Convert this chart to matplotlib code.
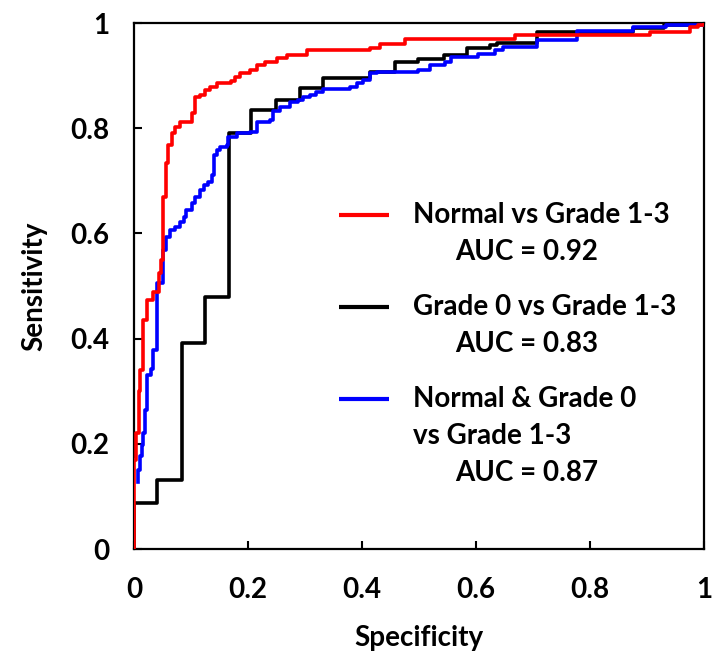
import numpy as np
import matplotlib
matplotlib.use('Agg')
import matplotlib.pyplot as plt

plt.rcParams['font.family'] = ['Lato', 'DejaVu Sans']
plt.rcParams['font.weight'] = 'bold'

# ROC curves: each point is (specificity, sensitivity) at the top of a vertical step
red_x = [0, 0, 0.004, 0.008, 0.011, 0.016, 0.022, 0.034, 0.044, 0.047, 0.051, 0.056,
         0.060, 0.066, 0.072, 0.081, 0.101, 0.107, 0.116, 0.125, 0.133, 0.145, 0.171,
         0.177, 0.186, 0.204, 0.215, 0.230, 0.250, 0.268, 0.303, 0.414, 0.432, 0.475,
         0.668, 0.905, 0.975, 0.990, 1.0]
red_y = [0, 0.17, 0.22, 0.30, 0.34, 0.435, 0.473, 0.489, 0.524, 0.549, 0.670, 0.733,
         0.768, 0.790, 0.803, 0.812, 0.829, 0.860, 0.863, 0.873, 0.878, 0.886, 0.889,
         0.898, 0.904, 0.911, 0.920, 0.926, 0.933, 0.939, 0.949, 0.952, 0.961, 0.969,
         0.977, 0.982, 0.993, 0.997, 1.0]

black_x = [0, 0, 0.040, 0.084, 0.125, 0.167, 0.206, 0.249, 0.291, 0.332, 0.414, 0.458,
           0.499, 0.543, 0.584, 0.625, 0.636, 0.707, 0.876, 0.929, 1.0]
black_y = [0, 0.087, 0.131, 0.392, 0.480, 0.790, 0.835, 0.854, 0.876, 0.895, 0.907, 0.926,
           0.931, 0.939, 0.952, 0.958, 0.962, 0.982, 0.991, 0.996, 1.0]

blue_x = [0.0076, 0.0076, 0.0105, 0.0135, 0.0164, 0.0193, 0.0234, 0.029, 0.034, 0.040,
          0.051, 0.057, 0.063, 0.072, 0.081, 0.087, 0.092, 0.101, 0.107, 0.116, 0.122,
          0.130, 0.136, 0.141, 0.145, 0.151, 0.163, 0.165, 0.180, 0.204, 0.215, 0.239,
          0.244, 0.256, 0.274, 0.288, 0.297, 0.309, 0.320, 0.332, 0.379, 0.391, 0.402,
          0.414, 0.426, 0.499, 0.519, 0.546, 0.557, 0.604, 0.633, 0.648, 0.707, 0.777,
          0.876, 0.934, 1.0]
blue_y = [0.128, 0.150, 0.176, 0.198, 0.220, 0.264, 0.330, 0.343, 0.378, 0.505,
          0.568, 0.594, 0.606, 0.613, 0.622, 0.632, 0.644, 0.657, 0.670, 0.682, 0.692,
          0.698, 0.711, 0.749, 0.759, 0.765, 0.768, 0.784, 0.790, 0.793, 0.812, 0.816,
          0.832, 0.841, 0.850, 0.854, 0.860, 0.863, 0.869, 0.875, 0.879, 0.886, 0.892,
          0.904, 0.907, 0.911, 0.920, 0.926, 0.936, 0.942, 0.949, 0.955, 0.968, 0.984,
          0.993, 0.997, 1.0]

legend_lines = [['Normal vs Grade 1-3', 'AUC = 0.92'],
                ['Grade 0 vs Grade 1-3', 'AUC = 0.83'],
                ['Normal & Grade 0', 'vs Grade 1-3', 'AUC = 0.87']]
colors = ['#ff0000', '#000000', '#0000ff']
ticks = [0, 0.2, 0.4, 0.6, 0.8, 1]
tick_labels = ['0', '0.2', '0.4', '0.6', '0.8', '1']

fig = plt.figure(figsize=(7.24, 6.71), dpi=100)
ax = fig.add_axes([134/724, 1 - 549/671, 570/724, 526/671])

ax.plot(black_x, black_y, color=colors[1], lw=2.6, drawstyle='steps-post', zorder=2)
ax.plot(blue_x, blue_y, color=colors[2], lw=2.6, drawstyle='steps-post', zorder=3)
ax.plot(red_x, red_y, color=colors[0], lw=2.6, drawstyle='steps-post', zorder=4)

ax.set_xlim(0, 1)
ax.set_ylim(0, 1)
ax.set_xticks(ticks)
ax.set_xticklabels(tick_labels)
ax.set_yticks(ticks)
ax.set_yticklabels(tick_labels)
ax.tick_params(direction='in', length=6, width=1.5, labelsize=20)
ax.tick_params(axis='x', pad=20)
ax.tick_params(axis='y', pad=18)
for s in ax.spines.values():
    s.set_linewidth(1.6)
ax.set_xlabel('Specificity', fontsize=20, fontweight='bold', labelpad=16)
ax.set_ylabel('Sensitivity', fontsize=20, fontweight='bold', labelpad=16)

# hand-placed legend
block_y = [0.635, 0.460, 0.285]
for lines, c, y0 in zip(legend_lines, colors, block_y):
    ax.plot([0.360, 0.447], [y0, y0], color=c, lw=3, transform=ax.transAxes,
            solid_capstyle='butt')
    for i, t in enumerate(lines):
        x = 0.563 if t.startswith('AUC') else 0.489
        ax.text(x, y0 - i * 0.070, t, transform=ax.transAxes, fontsize=20,
                fontweight='bold', va='center', ha='left')

fig.savefig('out.png', dpi=100)
